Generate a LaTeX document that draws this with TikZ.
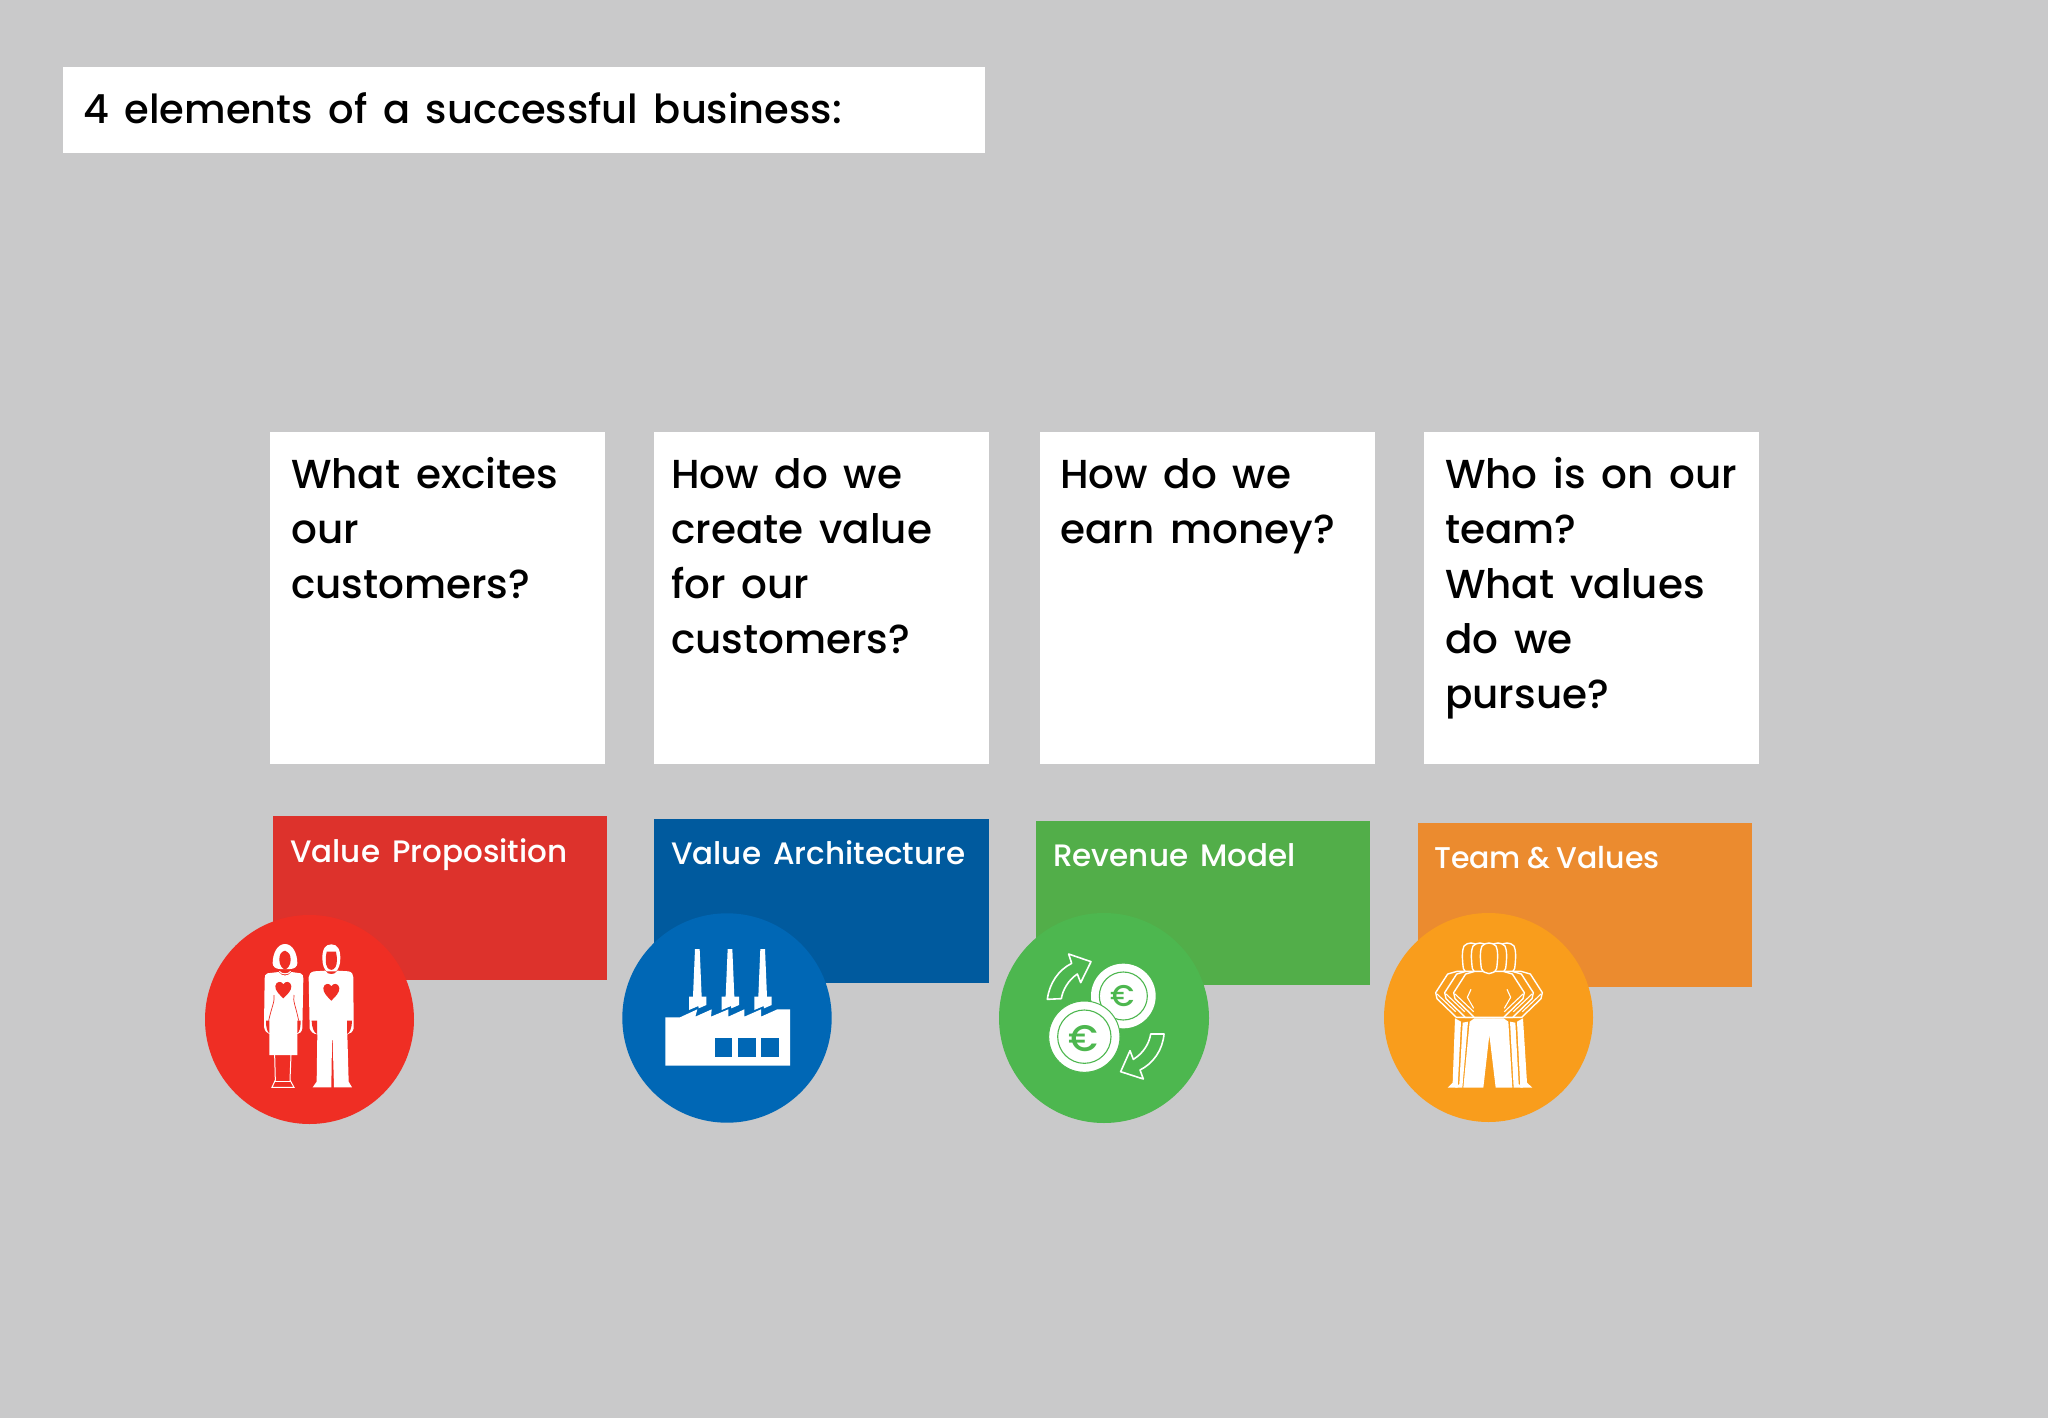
\documentclass[tikz,border=0pt]{standalone}
\usepackage{fontspec}
\setmainfont[WordSpace=1.5]{Poppins Medium}
\newfontfamily\teamlabelfont[WordSpace=0.8]{Poppins Medium}
\usetikzlibrary{calc}
\definecolor{bgc}{HTML}{C9C9CA}
\definecolor{redrect}{HTML}{DD322C}
\definecolor{redcirc}{HTML}{EF2E24}
\definecolor{bluerect}{HTML}{005A9E}
\definecolor{bluecirc}{HTML}{0067B5}
\definecolor{greenrect}{HTML}{52AE49}
\definecolor{greencirc}{HTML}{4DB74F}
\definecolor{orangerect}{HTML}{EB8B2F}
\definecolor{orangecirc}{HTML}{F99D1C}
\newcommand{\whitebox}[2]{\fill[white] (#1,#2) rectangle ++(335,332);}
\newcommand{\teamfig}[1]{%
  \begin{scope}[shift={(#1,0)}]
    \filldraw[fill=orangecirc,draw=white,line width=1.4pt,line join=round]
      (300,214) -- (272,222) -- (236,278) -- (240,296) -- (298,352) -- (386,352)
      -- (444,296) -- (448,278) -- (412,222) -- (384,214) -- cycle;
    \draw[white,line width=1.1pt,line join=round]
      (240,282) -- (296,335)
      (288,268) -- (277,292) -- (296,325)
      (444,282) -- (388,335)
      (396,268) -- (407,292) -- (388,325);
    \filldraw[fill=orangecirc,draw=white,line width=1.4pt]
      (319,205) .. controls (315,175) and (315,150) .. (321,138)
      .. controls (332,126) and (352,126) .. (363,138)
      .. controls (369,150) and (369,175) .. (365,205)
      .. controls (358,226) and (326,226) .. (319,205) -- cycle;
  \end{scope}}
\begin{document}
\begin{tikzpicture}[x=1pt,y=-1pt,
  qtext/.style={anchor=north west,inner sep=0pt,align=left,text=black,font=\fontsize{40.5}{55}\selectfont},
  lbl/.style={anchor=base west,inner sep=0pt,text=white,font=\fontsize{31}{38}\selectfont}]
\useasboundingbox (0,0) rectangle (2048,1418);
\fill[bgc] (0,0) rectangle (2048,1418);
% title
\fill[white] (63,67) rectangle (985,153);
\node[anchor=base west,inner sep=0pt,font=\fontsize{40}{50}\selectfont] (title) at (83,124) {4 elements of a successful business:};
% question boxes
\whitebox{270}{432}\whitebox{654}{432}\whitebox{1040}{432}\whitebox{1424}{432}
\node[qtext] (q1) at (291,457) {What excites\\our\\customers?};
\node[qtext] (q2) at (671,458.5) {How do we\\create value\\for our\\customers?};
\node[qtext] (q3) at (1060,458.5) {How do we\\earn money?};
\node[qtext] (q4) at (1445,457) {Who is on our\\team?\\What values\\do we\\pursue?};
% coloured rectangles
\fill[redrect] (273,816) rectangle (607,980);
\fill[bluerect] (654,819) rectangle (989,983);
\fill[greenrect] (1036,821) rectangle (1370,985);
\fill[orangerect] (1418,823) rectangle (1752,987);
\node[lbl] (l1) at (290,862) {Value Proposition};
\node[lbl] (l2) at (671,864) {Value Architecture};
\node[lbl] (l3) at (1053,866) {Revenue Model};
\node[lbl,font=\teamlabelfont\fontsize{30}{38}\selectfont] (l4) at (1434,868) {Team \& Values};
% circles
\fill[redcirc] (309.5,1019.5) circle (104.5);
\fill[bluecirc] (727,1018) circle (104.7);
\fill[greencirc] (1104,1018) circle (105);
\fill[orangecirc] (1488.5,1017.5) circle (104.5);
% couple
\begin{scope}[shift={(190,900)},scale=1/3]
  % woman
  \fill[white] (285,132) .. controls (262,132) and (248,160) .. (248,190)
     .. controls (248,200) and (258,207) .. (270,207) -- (300,207)
     .. controls (312,207) and (322,200) .. (322,190)
     .. controls (322,160) and (308,132) .. (285,132) -- cycle;
  \fill[redcirc] (285,152) .. controls (272,155) and (268,165) .. (268,180)
     .. controls (268,195) and (278,208) .. (285,208)
     .. controls (292,208) and (302,195) .. (302,180)
     .. controls (302,165) and (298,158) .. (285,152) -- cycle;
  \draw[white,line width=1pt] (268,214) .. controls (275,224) and (295,224) .. (302,214);
  \fill[white] (232,220) -- (266,216) .. controls (275,230) and (295,230) .. (304,216) -- (332,220)
     .. controls (338,222) and (340,228) .. (340,235) -- (337,385)
     .. controls (335,395) and (330,402) .. (322,402) -- (322,465) -- (238,465) -- (238,402)
     .. controls (230,400) and (224,392) .. (222,380) -- (224,235)
     .. controls (224,228) and (226,222) .. (232,220) -- cycle;
  \draw[redcirc,line width=.7pt] (252,285) .. controls (255,305) and (245,320) .. (236,362);
  \draw[redcirc,line width=.7pt] (312,285) .. controls (308,305) and (318,320) .. (326,362);
  \fill[redcirc] (228,362) -- (238,362) -- (238,400) .. controls (232,395) and (228,385) .. (228,362) -- cycle;
  \fill[redcirc] (332,362) -- (322,362) -- (322,400) .. controls (328,395) and (332,385) .. (332,362) -- cycle;
  \draw[white,line width=1pt] (254,465) -- (256,540) -- (246,562) -- (312,562) -- (300,540) -- (303,465);
  \draw[white,line width=1pt] (256,543) -- (302,543);
  % woman's heart
  \fill[redcirc] (280,295) .. controls (268,283) and (255,272) .. (256,258)
     .. controls (258,243) and (275,242) .. (280,253)
     .. controls (285,242) and (302,243) .. (304,258)
     .. controls (305,272) and (292,283) .. (280,295) -- cycle;
  % man
  \fill[white] (424,133) .. controls (405,133) and (397,148) .. (397,175)
     .. controls (397,195) and (403,208) .. (410,214) -- (438,214)
     .. controls (445,208) and (451,195) .. (451,175)
     .. controls (451,148) and (443,133) .. (424,133) -- cycle;
  \fill[redcirc] (410,155) -- (438,155) .. controls (442,175) and (442,192) .. (436,202)
     .. controls (430,212) and (418,212) .. (412,202)
     .. controls (406,192) and (406,175) .. (410,155) -- cycle;
  \fill[white] (372,214) -- (406,212) .. controls (412,226) and (436,226) .. (442,212) -- (476,214)
     .. controls (486,216) and (490,224) .. (490,232) -- (491,385)
     .. controls (488,395) and (482,402) .. (472,403)
     -- (476,545) -- (486,562) -- (432,562) -- (428,420) -- (426,420) -- (424,562) -- (368,562)
     -- (380,545) -- (382,403)
     .. controls (370,402) and (362,395) .. (359,385) -- (356,232)
     .. controls (356,224) and (362,216) .. (372,214) -- cycle;
  \fill[redcirc] (365,362) -- (381,362) -- (381,402) .. controls (372,398) and (366,385) .. (365,362) -- cycle;
  \fill[redcirc] (486,362) -- (471,362) -- (471,402) .. controls (480,398) and (485,385) .. (486,362) -- cycle;
  \fill[redcirc] (424,302) .. controls (412,290) and (399,278) .. (400,264)
     .. controls (402,249) and (419,248) .. (424,259)
     .. controls (429,248) and (446,249) .. (448,264)
     .. controls (449,278) and (436,290) .. (424,302) -- cycle;
\end{scope}
% factory
\begin{scope}[shift={(610,900)},scale=1/3]
  \fill[white] (166,497) -- (166,352) -- (210,352) -- (262,328) -- (256,350) -- (305,328) -- (303,350)
     -- (355,328) -- (355,350) -- (403,328) -- (403,350) -- (453,328) -- (453,350) -- (502,328) -- (540,328) -- (540,497) -- cycle;
  \foreach \cx in {262,360,458}{
    \fill[white] (\cx-7,147) -- (\cx+7,147) -- (\cx+13,290) -- (\cx+27,290) -- (\cx+27,315)
       -- (\cx+4,325) -- (\cx+3,318) -- (\cx-25,330) -- (\cx-25,290) -- (\cx-13,290) -- cycle;
  }
  \fill[bluecirc] (314,413) rectangle (367,471);
  \fill[bluecirc] (384,413) rectangle (437,471);
  \fill[bluecirc] (454,413) rectangle (507,471);
\end{scope}
% coins
\begin{scope}[shift={(990,900)},scale=1/3]
  \fill[white] (400,288) circle (97);
  \draw[greencirc,line width=1.1pt] (400,288) circle (72);
  \node[text=greencirc,inner sep=0pt,font=\fontsize{30}{30}\selectfont] (e1) at (397,288) {€};
  \filldraw[fill=white,draw=greencirc,line width=1pt] (283,410) circle (107);
  \draw[greencirc,line width=1.1pt] (283,410) circle (80);
  \node[text=greencirc,inner sep=0pt,font=\fontsize{37}{37}\selectfont] (e2) at (279,416) {€};
  \draw[white,line width=1.6pt,line join=round] (172,298) -- (214,296)
     .. controls (218,270) and (235,240) .. (262,222) -- (272,248) -- (303,185) -- (236,162) -- (245,190)
     .. controls (205,210) and (178,250) .. (172,298) -- cycle;
  \draw[white,line width=1.6pt,line join=round] (522,402) -- (482,402)
     .. controls (478,430) and (460,460) .. (430,478) -- (420,452) -- (392,515) -- (460,537) -- (450,510)
     .. controls (490,490) and (518,450) .. (522,402) -- cycle;
\end{scope}
% team
\begin{scope}[shift={(1375,900)},scale=1/3]
  \teamfig{-54}
  \teamfig{54}
  \teamfig{-27}
  \teamfig{27}
  \teamfig{0}
  % trousers
  \fill[white] (240,355) -- (258,365) -- (248,563) -- (218,563) -- (233,548) -- cycle;
  \fill[white] (263,368) -- (279,365) -- (262,563) -- (240,563) -- (253,552) -- cycle;
  \fill[white] (298,355) -- (386,355) -- (400,365) -- (412,563) -- (362,563) -- (343,405) -- (325,563) -- (265,563) -- (284,365) -- cycle;
  \fill[white] (405,365) -- (421,368) -- (431,552) -- (444,563) -- (416,563) -- cycle;
  \fill[white] (426,365) -- (444,355) -- (456,548) -- (472,563) -- (436,563) -- cycle;
\end{scope}
\end{tikzpicture}
\end{document}
